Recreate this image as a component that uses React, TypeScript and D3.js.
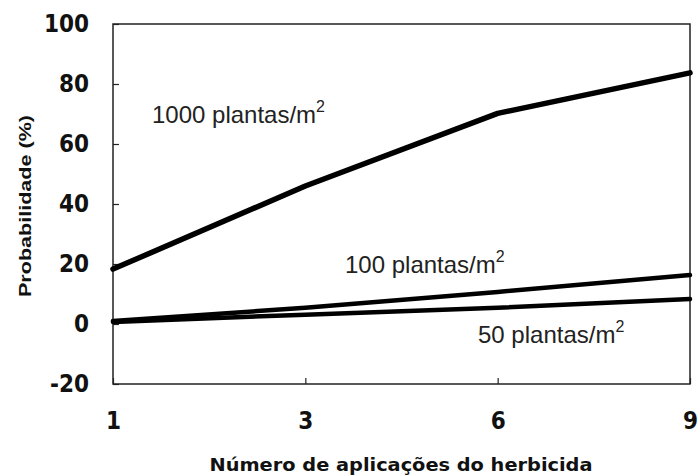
import { useEffect, useRef } from "react"
import * as d3 from "d3"

const applications = ["1", "3", "6", "9"]
const p1000 = [18.3, 46, 70.2, 83.7]
const p100 = [1, 5.4, 10.7, 16.3]
const p50 = [0.7, 3.1, 5.4, 8.3]
const yTicks = [-20, 0, 20, 40, 60, 80, 100]

const seriesNames = ["1000", "100", "50"]
const seriesValues = [p1000, p100, p50]

const condensed = "'DejaVu Sans Condensed', 'Liberation Sans', Arial, sans-serif"

export default function App() {
  const svgRef = useRef<SVGSVGElement>(null)

  useEffect(() => {
    document.body.style.margin = "0"
    if (!svgRef.current) return

    d3.select(svgRef.current).selectAll("*").remove()

    const width = 699
    const height = 476
    const margin = { top: 24, right: 9, bottom: 92, left: 113 }
    const chartWidth = width - margin.left - margin.right
    const chartHeight = height - margin.top - margin.bottom

    const svg = d3
      .select(svgRef.current)
      .attr("width", width)
      .attr("height", height)
      .style("background", "#fff")
      .append("g")
      .attr("transform", `translate(${margin.left},${margin.top})`)

    const x = d3.scalePoint().domain(applications).range([0, chartWidth])
    const y = d3.scaleLinear().domain([-20, 100]).range([chartHeight, 0])

    // frame
    svg
      .append("rect")
      .attr("x", 0)
      .attr("y", 0)
      .attr("width", chartWidth)
      .attr("height", chartHeight)
      .attr("fill", "none")
      .attr("stroke", "#222")
      .attr("stroke-width", 1.5)

    // Y axis (ticks pointing inward)
    const yAxis = svg
      .append("g")
      .call(
        d3
          .axisLeft(y)
          .tickValues(yTicks)
          .tickFormat((d) => String(d))
          .tickSizeInner(-6)
          .tickSizeOuter(0)
          .tickPadding(24)
      )
    yAxis.select(".domain").remove()
    yAxis.selectAll("line").attr("stroke", "#222").attr("stroke-width", 1.2)
    yAxis
      .selectAll("text")
      .style("font-family", condensed)
      .style("font-weight", "bold")
      .style("font-size", "24px")
      .style("fill", "#111")

    // X axis (ticks pointing inward)
    const xAxis = svg
      .append("g")
      .attr("transform", `translate(0,${chartHeight})`)
      .call(d3.axisBottom(x).tickSizeInner(-6).tickSizeOuter(0).tickPadding(28))
    xAxis.select(".domain").remove()
    xAxis.selectAll("line").attr("stroke", "#222").attr("stroke-width", 1.2)
    xAxis
      .selectAll("text")
      .style("font-family", condensed)
      .style("font-weight", "bold")
      .style("font-size", "24px")
      .style("fill", "#111")

    // lines
    const line = d3
      .line<number>()
      .x((_, i) => x(applications[i]) || 0)
      .y((d) => y(d))

    seriesValues.forEach((vals, i) => {
      svg
        .append("path")
        .datum(vals)
        .attr("fill", "none")
        .attr("stroke", "#000")
        .attr("stroke-width", i === 0 ? 5.5 : 4.5)
        .attr("stroke-linecap", "round")
        .attr("stroke-linejoin", "round")
        .attr("d", line)
    })

    // series labels
    const labelPos = [
      { x: 152 - margin.left, y: 123 - margin.top },
      { x: 345 - margin.left, y: 273 - margin.top },
      { x: 478 - margin.left, y: 343 - margin.top },
    ]
    seriesNames.forEach((name, i) => {
      const t = svg
        .append("text")
        .attr("x", labelPos[i].x)
        .attr("y", labelPos[i].y)
        .style("font-family", "'Liberation Sans', Arial, sans-serif")
        .style("font-size", "24px")
        .style("fill", "#222")
      t.append("tspan").text(`${name} plantas/m`)
      t.append("tspan").attr("dy", -11).style("font-size", "16px").text("2")
    })

    // X axis title
    svg
      .append("text")
      .attr("x", 401 - margin.left)
      .attr("y", 471 - margin.top)
      .attr("text-anchor", "middle")
      .attr("textLength", 383)
      .attr("lengthAdjust", "spacingAndGlyphs")
      .style("font-family", condensed)
      .style("font-weight", "bold")
      .style("font-size", "18px")
      .style("fill", "#111")
      .text("Número de aplicações do herbicida")

    // Y axis title
    svg
      .append("text")
      .attr("transform", `translate(${31 - margin.left},${206 - margin.top}) rotate(-90)`)
      .attr("text-anchor", "middle")
      .attr("textLength", 182)
      .attr("lengthAdjust", "spacingAndGlyphs")
      .style("font-family", "'Liberation Sans', Arial, sans-serif")
      .style("font-weight", "bold")
      .style("font-size", "17px")
      .style("fill", "#111")
      .text("Probabilidade (%)")
  }, [])

  return <svg ref={svgRef}></svg>
}
